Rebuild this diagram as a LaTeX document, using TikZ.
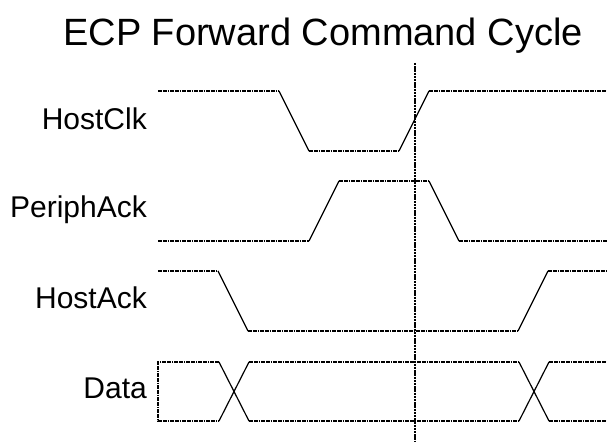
\documentclass[tikz,border=0pt]{standalone}
\usepackage{fontspec}
\setmainfont{Liberation Sans}
\begin{document}
\begin{tikzpicture}[x=1pt,y=-1pt,
  level/.style={line width=1.2pt,dash pattern=on 1.8pt off 0.6pt},
  edge/.style={line width=1.2pt},
  marker/.style={line width=1.2pt,dash pattern=on 2.4pt off 0.8pt},
  signame/.style={anchor=base east,inner sep=0pt,font=\fontsize{30}{32}\selectfont},
  heading/.style={anchor=base,inner sep=0pt,font=\fontsize{38}{40}\selectfont}]
\useasboundingbox (0,0) rectangle (607,446);

\node[heading] (title) at (323,46) {ECP Forward Command Cycle};

\node[signame] (clk)  at (147,130) {HostClk};
\node[signame] (pack) at (147,218) {PeriphAck};
\node[signame] (hack) at (147,308) {HostAck};
\node[signame] (data) at (147,398) {Data};

% HostClk: high, falls, low, rises, high
\draw[level] (158,91) -- (279,91);
\draw[edge]  (279,91) -- (309,151);
\draw[level] (309,151) -- (399,151);
\draw[edge]  (399,151) -- (429,91);
\draw[level] (429,91) -- (607,91);

% PeriphAck: low, rises, high, falls, low
\draw[level] (158,241) -- (309,241);
\draw[edge]  (309,241) -- (339,181);
\draw[level] (339,181) -- (429,181);
\draw[edge]  (429,181) -- (459,241);
\draw[level] (459,241) -- (607,241);

% HostAck: high, falls, low, rises, high
\draw[level] (158,271) -- (218,271);
\draw[edge]  (218,271) -- (248,331);
\draw[level] (248,331) -- (518,331);
\draw[edge]  (518,331) -- (548,271);
\draw[level] (548,271) -- (607,271);

% Data bus with two crossovers
\draw[level] (219,362) -- (158,362) -- (158,421) -- (219,421);
\draw[edge]  (219,362) -- (249,421);
\draw[edge]  (219,421) -- (249,362);
\draw[level] (249,362) -- (519,362);
\draw[level] (249,421) -- (519,421);
\draw[edge]  (519,362) -- (549,421);
\draw[edge]  (519,421) -- (549,362);
\draw[level] (549,362) -- (607,362);
\draw[level] (549,421) -- (607,421);

% reference instant
\coordinate (mtop) at (415,63);
\coordinate (mbot) at (415,441);
\draw[marker] (mtop) -- (mbot);
\end{tikzpicture}
\end{document}
